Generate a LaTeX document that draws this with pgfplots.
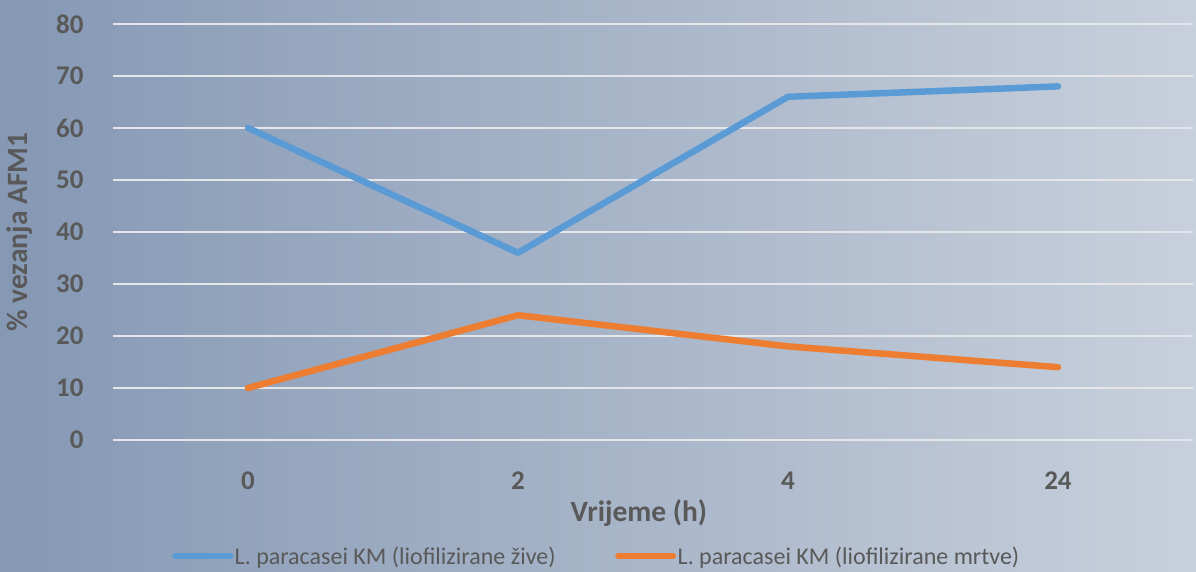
\documentclass[border=0pt]{standalone}
\usepackage{pgfplots}
\pgfplotsset{compat=1.18}
\usepackage{fontspec}
\setmainfont{Carlito}
\definecolor{txtgray}{HTML}{595959}
\definecolor{serblue}{HTML}{5B9BD5}
\definecolor{serorange}{HTML}{ED7D31}
\definecolor{bgleft}{RGB}{133,152,180}
\definecolor{bgright}{RGB}{200,208,220}
\definecolor{gridc}{RGB}{228,230,234}
\begin{document}
\begin{tikzpicture}[x=1pt,y=1pt]
\shade[left color=bgleft, right color=bgright] (0,0) rectangle (1196,572);
\begin{axis}[
  at={(113pt,132pt)}, anchor=south west,
  width=1080pt, height=416pt, scale only axis,
  xmin=-0.5, xmax=3.5, ymin=0, ymax=80,
  xtick={0,1,2,3}, xticklabels={0,2,4,24},
  ytick={0,10,...,80},
  /pgf/number format/assume math mode=true,
  axis line style={draw=none},
  major tick length=0pt,
  ymajorgrids, grid style={gridc, line width=2pt},
  tick label style={font=\fontsize{27}{30}\selectfont\bfseries, text=txtgray},
  xticklabel style={anchor=center, yshift=-41pt},
  yticklabel style={anchor=east, xshift=-26pt},
  xlabel={Vrijeme (h)},
  ylabel={\% vezanja AFM1},
  label style={font=\fontsize{29.5}{32}\selectfont\bfseries, text=txtgray},
  xlabel style={at={(axis description cs:0.487,-0.1755)}, anchor=center},
  ylabel style={at={(axis description cs:-0.0861,0.5)}, anchor=center},
  legend columns=2,
  legend style={at={(axis description cs:0.4477,-0.2788)}, anchor=center,
    draw=none, fill=none, font=\fontsize{24}{27}\selectfont, text=txtgray,
    /tikz/every even column/.append style={column sep=58pt},
    nodes={inner sep=1.5pt}},
  legend image code/.code={\draw[#1, line width=6pt, line cap=round] (0pt,0pt) -- (55pt,0pt);},
  clip=false,
]
\addplot[serblue, line width=6.5pt, line cap=round, line join=round] coordinates {(0,60) (1,36) (2,66) (3,68)};
\addlegendentry{L. paracasei KM (liofilizirane žive)}
\addplot[serorange, line width=6.5pt, line cap=round, line join=round] coordinates {(0,10) (1,24) (2,18) (3,14)};
\addlegendentry{L. paracasei KM (liofilizirane mrtve)}
\end{axis}
\end{tikzpicture}
\end{document}
